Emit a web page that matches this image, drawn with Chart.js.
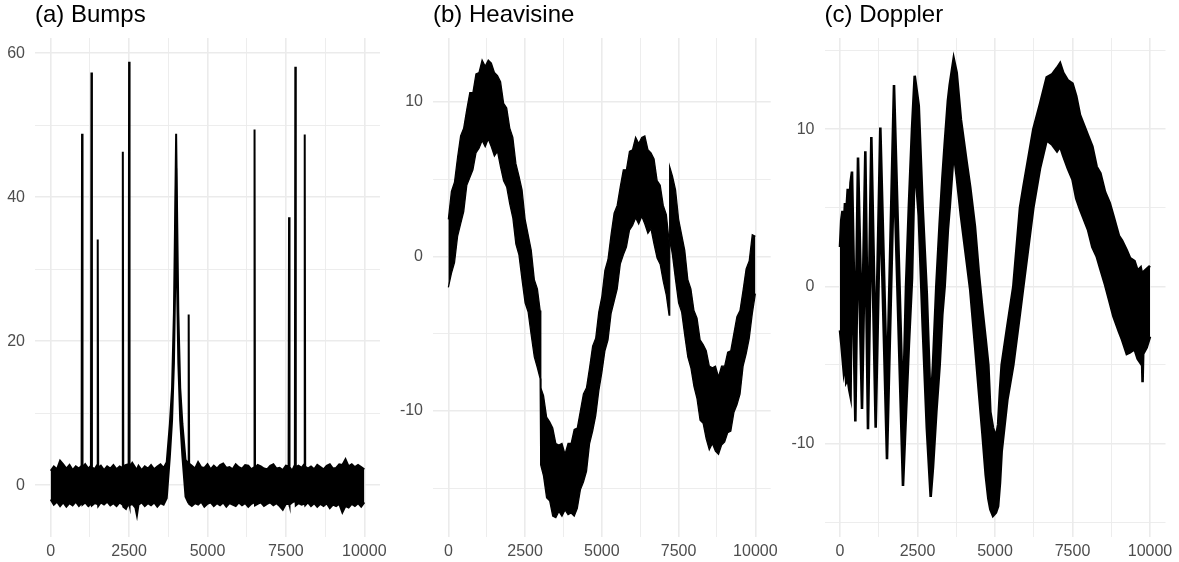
<!DOCTYPE html>
<html>
<head>
<meta charset="utf-8">
<script src="https://cdn.jsdelivr.net/npm/chart.js@4.4.1/dist/chart.umd.min.js"></script>
<style>
  body { margin: 0; background: #fff; }
  .panel { position: absolute; top: 0; }
</style>
</head>
<body>
<div class="panel" style="left:0px"><canvas id="bumps" width="393" height="562"></canvas></div>
<div class="panel" style="left:393px"><canvas id="heavisine" width="393" height="562"></canvas></div>
<div class="panel" style="left:786px"><canvas id="doppler" width="393" height="562"></canvas></div>
<script>
// noisy signals, drawn as the upper and lower edge of the black band
const xMajor = [0, 2500, 5000, 7500, 10000];
const xMinor = [1250, 3750, 6250, 8750];

const bumpsX = [0, 100, 200, 300, 400, 500, 600, 700, 800, 900, 985, 1000, 1015, 1100, 1200, 1285, 1300, 1315, 1400, 1485, 1500, 1515, 1600, 1700, 1800, 1900, 2000, 2100, 2200, 2285, 2300, 2315, 2400, 2485, 2500, 2515, 2600, 2700, 2750, 2800, 2900, 3000, 3100, 3200, 3300, 3400, 3500, 3600, 3700, 3800, 3870, 3930, 3970, 4000, 4030, 4070, 4130, 4200, 4300, 4385, 4400, 4415, 4500, 4600, 4700, 4800, 4900, 5000, 5100, 5200, 5300, 5400, 5500, 5600, 5700, 5800, 5900, 6000, 6100, 6200, 6300, 6400, 6485, 6500, 6515, 6600, 6700, 6800, 6900, 7000, 7100, 7200, 7300, 7400, 7500, 7585, 7600, 7615, 7700, 7785, 7800, 7815, 7900, 8000, 8085, 8100, 8115, 8200, 8300, 8400, 8500, 8600, 8700, 8800, 8900, 9000, 9100, 9200, 9300, 9400, 9500, 9600, 9700, 9800, 9900, 10000];
const bumpsUpper = [2.0, 2.6, 2.2, 3.4, 2.9, 2.3, 2.8, 2.1, 2.6, 2.3, 2.7, 48.8, 2.4, 2.9, 2.3, 2.7, 57.3, 2.5, 2.2, 2.8, 34.1, 2.4, 2.7, 2.1, 2.6, 2.3, 2.8, 2.2, 2.6, 2.4, 46.3, 2.6, 2.8, 2.9, 58.8, 2.5, 3.1, 2.4, 2.2, 2.7, 2.1, 2.6, 2.3, 2.8, 2.2, 2.6, 2.9, 2.4, 3.2, 8.5, 13.5, 24, 38, 48.8, 38, 24, 13.5, 8.5, 3.5, 3.0, 23.7, 3.0, 2.7, 2.3, 3.2, 2.5, 2.4, 2.9, 2.2, 2.7, 2.3, 2.8, 3.0, 2.4, 2.5, 2.2, 2.9, 2.5, 2.3, 2.8, 2.7, 2.2, 2.5, 49.4, 2.4, 2.8, 2.6, 2.3, 2.2, 2.7, 2.9, 2.3, 2.4, 2.1, 2.7, 2.6, 37.2, 2.5, 2.0, 2.8, 58.1, 2.5, 2.7, 2.4, 2.9, 48.7, 2.6, 2.3, 2.6, 2.2, 2.8, 2.5, 2.2, 2.7, 2.9, 2.3, 2.4, 2.9, 2.8, 3.6, 2.6, 2.9, 2.5, 2.8, 2.5, 2.2];
const bumpsLower = [-2.0, -2.7, -2.3, -2.9, -2.4, -3.0, -2.5, -2.8, -2.3, -2.9, -2.5, -2.2, -2.7, -2.4, -2.9, -2.6, -2.4, -2.8, -2.5, -2.6, -2.3, -2.9, -2.4, -2.7, -2.3, -2.8, -2.5, -2.9, -2.4, -2.7, -2.6, -3.0, -3.3, -2.5, -2.5, -2.8, -2.6, -3.1, -4.2, -2.7, -2.4, -2.9, -2.5, -2.8, -2.4, -3.0, -2.5, -2.7, -1.8, 4.0, 9.0, 17, 28, 44, 28, 17, 9.0, 4.0, -1.6, -2.4, -2.2, -2.6, -2.9, -2.5, -2.7, -2.3, -3.0, -2.6, -2.4, -2.9, -2.5, -2.8, -2.4, -3.0, -2.5, -2.7, -2.9, -2.4, -2.8, -2.5, -3.0, -2.6, -2.4, -2.2, -2.8, -2.6, -2.4, -2.9, -2.6, -2.4, -2.8, -2.5, -2.9, -3.4, -2.6, -2.6, -2.4, -2.7, -2.4, -2.2, -2.0, -2.8, -2.5, -2.7, -2.6, -2.4, -2.8, -2.4, -2.9, -2.5, -3.0, -2.6, -2.9, -2.5, -3.2, -2.7, -2.9, -2.6, -3.8, -2.9, -3.1, -2.6, -2.9, -2.5, -3.0, -2.4];

const heavX = [0, 100, 200, 300, 400, 500, 600, 700, 800, 900, 1000, 1100, 1200, 1300, 1400, 1500, 1600, 1700, 1800, 1900, 2000, 2100, 2200, 2300, 2400, 2500, 2600, 2700, 2800, 2900, 2990, 3010, 3100, 3200, 3300, 3400, 3500, 3600, 3700, 3800, 3900, 4000, 4100, 4200, 4300, 4400, 4500, 4600, 4700, 4800, 4900, 5000, 5100, 5200, 5300, 5400, 5500, 5600, 5700, 5800, 5900, 6000, 6100, 6200, 6300, 6400, 6500, 6600, 6700, 6800, 6900, 7000, 7100, 7190, 7210, 7300, 7400, 7500, 7600, 7700, 7800, 7900, 8000, 8100, 8200, 8300, 8400, 8500, 8600, 8700, 8800, 8900, 9000, 9100, 9200, 9300, 9400, 9500, 9600, 9700, 9800, 9900, 10000];
const heavUpper = [2.4, 4.2, 4.8, 6.4, 7.8, 8.3, 9.5, 10.6, 10.6, 11.8, 11.9, 12.7, 12.3, 12.7, 12.5, 11.9, 11.7, 11.3, 9.9, 9.6, 8.3, 7.7, 6.0, 5.2, 4.3, 2.4, 1.4, 0.4, -1.5, -2.1, -3.5, -8.5, -9.0, -10.4, -10.7, -11.1, -12.1, -12.2, -12.1, -12.8, -12.1, -12.1, -11.2, -11.1, -10.0, -8.9, -8.5, -7.2, -5.8, -5.3, -3.6, -2.6, -0.9, -0.2, 1.4, 2.8, 3.3, 4.5, 5.6, 5.6, 6.8, 6.9, 7.7, 7.3, 7.7, 7.8, 6.9, 6.7, 6.3, 4.9, 4.6, 3.3, 2.7, 1.0, 5.8, 5.2, 4.3, 2.4, 1.4, 0.4, -1.5, -2.1, -3.5, -4.0, -5.4, -5.7, -6.1, -7.1, -7.2, -7.1, -7.8, -7.1, -7.1, -6.2, -6.1, -5.0, -3.9, -3.5, -2.2, -0.8, -0.3, 1.4, 1.3];
const heavLower = [-2.0, -1.1, -0.4, 1.3, 2.1, 2.9, 4.6, 5.1, 5.6, 6.7, 7.0, 7.5, 7.1, 7.6, 7.1, 6.5, 6.8, 5.8, 4.9, 4.5, 3.4, 2.5, 0.8, 0.1, -1.5, -3.0, -3.6, -5.1, -6.5, -7.2, -7.9, -13.5, -14.2, -15.6, -15.8, -16.8, -16.9, -16.5, -16.8, -16.4, -16.7, -16.6, -16.8, -16.3, -15.1, -14.6, -13.9, -12.1, -11.3, -10.3, -8.7, -7.5, -6.1, -5.4, -3.7, -2.9, -2.1, -0.5, 0.1, 0.6, 1.7, 2.0, 2.5, 2.1, 2.6, 2.1, 1.5, 1.8, 0.8, -0.1, -0.5, -1.6, -2.5, -3.8, 1.2, 0.1, -1.5, -3.0, -3.6, -5.1, -6.5, -7.2, -8.4, -9.2, -10.6, -10.8, -11.8, -12.5, -12.1, -12.6, -12.8, -12.2, -12.0, -11.4, -11.3, -10.1, -9.6, -8.9, -7.1, -6.3, -5.3, -3.7, -2.4];

const dopX = [0, 40, 80, 120, 160, 200, 250, 300, 340, 387, 495, 581, 710, 817, 903, 1011, 1151, 1301, 1516, 1742, 2032, 2130, 2220, 2323, 2409, 2540, 2667, 2800, 2925, 3000, 3107, 3215, 3300, 3376, 3480, 3538, 3667, 3764, 3900, 4085, 4200, 4353, 4480, 4596, 4700, 4785, 4850, 4935, 5030, 5100, 5161, 5215, 5400, 5591, 5806, 5914, 6236, 6451, 6667, 6850, 7000, 7100, 7200, 7350, 7500, 7620, 7742, 8000, 8140, 8280, 8400, 8550, 8700, 8817, 9000, 9100, 9250, 9355, 9500, 9600, 9700, 9740, 9760, 9780, 9892, 10000];
const dopUpper = [2.5, 4.2, 4.8, 3.5, 5.3, 4.6, 6.2, 5.0, 6.6, 7.3, -4.2, 8.2, -3.4, 8.6, -4.7, 9.5, -4.6, 10.1, -6.6, 12.8, -8.0, 0.0, 5.0, 10.0, 13.4, 11.5, 5.0, -0.5, -7.8, -5.0, 0.0, 4.0, 6.8, 9.0, 11.8, 12.8, 14.5, 13.6, 10.6, 7.9, 6.3, 3.8, 0.8, -1.5, -3.4, -5.0, -8.0, -9.0, -9.6, -8.8, -6.6, -5.0, -2.5, 0.0, 5.0, 6.3, 10.0, 11.6, 13.3, 13.5, 13.9, 14.2, 13.6, 13.1, 12.9, 12.1, 10.9, 9.6, 8.9, 7.6, 7.2, 6.0, 5.3, 4.5, 3.2, 2.9, 2.3, 1.8, 1.6, 1.0, 1.2, 0.8, 0.2, 0.9, 1.1, 1.3];
const dopLower = [-2.8, -3.6, -4.5, -5.4, -4.8, -6.1, -5.9, -6.6, -7.0, 2.9, -8.6, 3.8, -7.8, 4.2, -9.1, 5.1, -9.0, 5.7, -11.0, 7.6, -12.7, -8.0, -3.8, 0.5, 8.0, 4.5, -2.5, -9.0, -13.4, -11.5, -8.0, -5.0, -1.8, 0.0, 3.6, 5.0, 8.6, 7.0, 4.5, 1.6, -0.2, -3.7, -6.7, -9.4, -12.0, -13.5, -14.2, -14.6, -14.4, -14.0, -12.5, -10.5, -7.2, -5.0, -1.7, 0.0, 5.0, 7.5, 9.3, 9.0, 8.6, 8.9, 8.3, 7.5, 6.8, 5.6, 4.9, 3.6, 2.5, 1.9, 1.1, 0.1, -1.0, -1.9, -2.9, -3.4, -4.3, -4.2, -4.0, -4.6, -4.9, -4.4, -6.1, -4.3, -3.9, -3.2];

const FONT = '"Liberation Sans", Arial, Helvetica, sans-serif';

function makePanel(id, title, xs, upper, lower, opts) {
    const ctx = document.getElementById(id).getContext('2d');
    const yTicks = opts.yMajor.concat(opts.yMinor).sort((a, b) => a - b);
    const xTicks = xMajor.concat(xMinor).sort((a, b) => a - b);

    new Chart(ctx, {
        type: 'line',
        data: {
            datasets: [{
                data: xs.map((x, i) => ({ x: x, y: lower[i] })),
                borderColor: '#000',
                borderWidth: opts.lineWidth,
                pointRadius: 0,
                fill: false
            }, {
                data: xs.map((x, i) => ({ x: x, y: upper[i] })),
                borderColor: '#000',
                backgroundColor: '#000',
                borderWidth: opts.lineWidth,
                pointRadius: 0,
                fill: '-1'
            }]
        },
        options: {
            responsive: false,
            animation: false,
            devicePixelRatio: 1,
            layout: { padding: { left: 0, right: opts.rightPad, top: 0, bottom: 0 } },
            plugins: {
                legend: { display: false },
                tooltip: { enabled: false },
                title: {
                    display: true,
                    text: title,
                    align: 'start',
                    fullSize: false,
                    color: '#000',
                    font: { family: FONT, size: 24, weight: 'normal' },
                    padding: { top: 0.6, bottom: 8.6 }
                }
            },
            scales: {
                x: {
                    type: 'linear',
                    min: -500,
                    max: 10500,
                    afterBuildTicks: scale => { scale.ticks = xTicks.map(v => ({ value: v })); },
                    afterFit: scale => { scale.height = 25; },
                    border: { display: false },
                    grid: {
                        drawTicks: false,
                        color: '#ebebeb',
                        lineWidth: c => xMajor.includes(c.tick.value) ? 1.6 : 0.9
                    },
                    ticks: {
                        padding: 5,
                        color: '#4d4d4d',
                        font: { family: FONT, size: 16 },
                        maxRotation: 0,
                        autoSkip: false,
                        callback: v => xMajor.includes(v) ? String(v) : ''
                    }
                },
                y: {
                    min: opts.yMin,
                    max: opts.yMax,
                    afterBuildTicks: scale => { scale.ticks = yTicks.map(v => ({ value: v })); },
                    afterFit: scale => { scale.width = opts.leftW; },
                    border: { display: false },
                    grid: {
                        drawTicks: false,
                        color: '#ebebeb',
                        lineWidth: c => opts.yMajor.includes(c.tick.value) ? 1.6 : 0.9
                    },
                    ticks: {
                        padding: 10,
                        color: '#4d4d4d',
                        font: { family: FONT, size: 16 },
                        autoSkip: false,
                        callback: v => opts.yMajor.includes(v) ? String(v) : ''
                    }
                }
            }
        }
    });
}

makePanel('bumps', '(a) Bumps', bumpsX, bumpsUpper, bumpsLower, {
    yMin: -7.2, yMax: 62.1, yMajor: [0, 20, 40, 60], yMinor: [10, 30, 50],
    leftW: 35, rightPad: 13, lineWidth: 2.0
});
makePanel('heavisine', '(b) Heavisine', heavX, heavUpper, heavLower, {
    yMin: -18.15, yMax: 14.13, yMajor: [-10, 0, 10], yMinor: [-15, -5, 5],
    leftW: 40, rightPad: 15.3, lineWidth: 1.3
});
makePanel('doppler', '(c) Doppler', dopX, dopUpper, dopLower, {
    yMin: -15.95, yMax: 15.8, yMajor: [-10, 0, 10], yMinor: [-15, -5, 5, 15],
    leftW: 38.5, rightPad: 13.5, lineWidth: 2.6
});
</script>
</body>
</html>
